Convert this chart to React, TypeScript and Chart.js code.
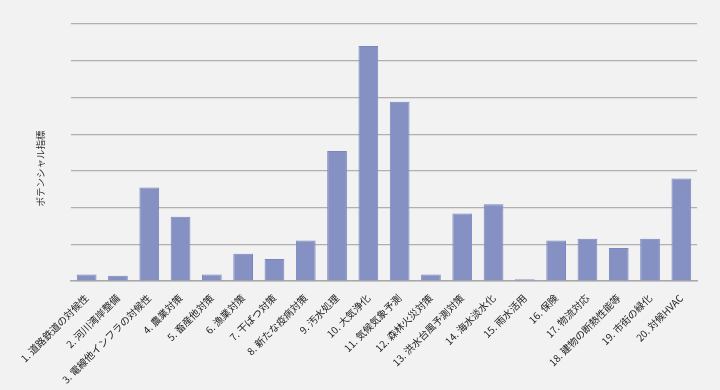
import React, { useEffect, useRef } from "react";
import { Chart, registerables } from "chart.js";

Chart.register(...registerables);

const categories = [
  "1. 道路鉄道の対候性",
  "2. 河川湾岸整備",
  "3. 電線他インフラの対候性",
  "4. 農業対策",
  "5. 畜産他対策",
  "6. 漁業対策",
  "7. 干ばつ対策",
  "8. 新たな疫病対策",
  "9. 汚水処理",
  "10. 大気浄化",
  "11. 気候気象予測",
  "12. 森林火災対策",
  "13. 洪水台風予測対策",
  "14. 海水淡水化",
  "15. 雨水活用",
  "16. 保険",
  "17. 物流対応",
  "18. 建物の断熱性能等",
  "19. 市街の緑化",
  "20. 対候HVAC",
];

const potential = [
  0.18, 0.14, 2.55, 1.75, 0.18, 0.74, 0.6, 1.1, 3.54, 6.4,
  4.88, 0.18, 1.84, 2.09, 0.05, 1.1, 1.15, 0.9, 1.15, 2.79,
];

const yTitle = "ポテンシャル指標";
const yMax = 7;

export default function App() {
  const ref = useRef<HTMLCanvasElement | null>(null);

  useEffect(() => {
    document.body.style.margin = "0";
    const canvas = ref.current;
    if (!canvas) return;
    const font = "'Noto Sans CJK JP', 'Noto Sans', sans-serif";
    const yTitlePlugin = {
      id: "yTitlePlugin",
      afterDraw(c: any) {
        const ctx = c.ctx;
        const area = c.chartArea;
        ctx.save();
        ctx.translate(40, (area.top + area.bottom) / 2 + 16);
        ctx.rotate(-Math.PI / 2);
        ctx.font = `9.5px ${font}`;
        ctx.fillStyle = "#333";
        ctx.textAlign = "center";
        ctx.textBaseline = "middle";
        ctx.fillText(yTitle, 0, 0);
        ctx.restore();
      },
    };
    const chart = new Chart(canvas, {
      type: "bar",
      data: {
        labels: categories,
        datasets: [
          {
            data: potential,
            backgroundColor: "#8590c3",
            borderColor: "#7a86bd",
            borderWidth: 1,
            barPercentage: 0.63,
            categoryPercentage: 1,
          },
        ],
      },
      options: {
        responsive: false,
        animation: false,
        maintainAspectRatio: false,
        layout: { padding: { top: 24, right: 23, left: 0, bottom: 0 } },
        plugins: {
          legend: { display: false },
          tooltip: { enabled: false },
        },
        scales: {
          x: {
            grid: { display: false },
            border: { display: true, color: "#a9a9a9", width: 1.5 },
            ticks: {
              minRotation: 45,
              maxRotation: 45,
              autoSkip: false,
              color: "#222",
              padding: 3,
              font: { family: font, size: 10 },
            },
            afterFit: (scale: any) => {
              scale.height = 109;
            },
          },
          y: {
            min: 0,
            max: yMax,
            ticks: { display: false, stepSize: 1 },
            grid: { color: "#b0b0b0", lineWidth: 1.2, drawTicks: false },
            border: { display: false },
            title: { display: false },
            afterFit: (scale: any) => {
              scale.width = 71;
            },
          },
        },
      },
      plugins: [yTitlePlugin],
    });
    return () => chart.destroy();
  }, []);

  return (
    <div style={{ width: 720, height: 390, background: "#f2f2f2" }}>
      <canvas ref={ref} width={720} height={390} />
    </div>
  );
}
